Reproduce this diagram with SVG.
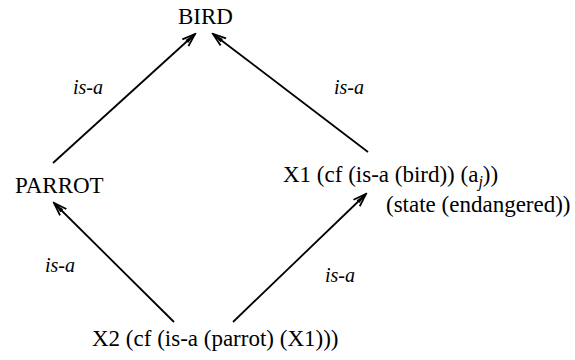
<svg xmlns="http://www.w3.org/2000/svg" width="575" height="360" viewBox="0 0 575 360">
  <style>
    .node { font-family: "Liberation Serif", "Times New Roman", serif; font-size: 23px; fill: #000; }
    .lbl { font-family: "Liberation Serif", "Times New Roman", serif; font-size: 20px; font-style: italic; fill: #000; }
    .edge { stroke: #000; stroke-width: 1.8; fill: none; marker-end: url(#vee); }
  </style>
  <defs>
    <marker id="vee" viewBox="-14 -6 16 12" refX="0" refY="0" markerWidth="16" markerHeight="12" markerUnits="userSpaceOnUse" orient="auto">
      <path d="M -13,-4.5 L 0,0 L -13,4.5" fill="none" stroke="#000" stroke-width="1.8"/>
      <path d="M -11,-2 L 0,0 L -11,2 Z" fill="#000"/>
    </marker>
  </defs>
  <rect width="575" height="360" fill="#fff"/>

  <g id="connectors">
    <line class="edge" x1="53" y1="163" x2="195" y2="34"/>
    <line class="edge" x1="368" y1="152" x2="213" y2="34"/>
    <line class="edge" x1="174" y1="322" x2="54" y2="203"/>
    <line class="edge" x1="233" y1="322" x2="366" y2="194"/>
    <text class="lbl" x="73" y="94">is-a</text>
    <text class="lbl" x="334" y="94">is-a</text>
    <text class="lbl" x="45" y="272">is-a</text>
    <text class="lbl" x="325" y="282">is-a</text>
  </g>

  <g id="bird">
    <text class="node" x="178" y="24">BIRD</text>
  </g>
  <g id="parrot">
    <text class="node" x="15" y="193">PARROT</text>
  </g>
  <g id="x1">
    <text class="node" x="283" y="182">X1 (cf (is-a (bird)) (a<tspan font-style="italic" font-size="16" dy="5">j</tspan><tspan dy="-5">))</tspan></text>
    <text class="node" x="386" y="212">(state (endangered))</text>
  </g>
  <g id="x2">
    <text class="node" x="92" y="346">X2 (cf (is-a (parrot) (X1)))</text>
  </g>
</svg>
